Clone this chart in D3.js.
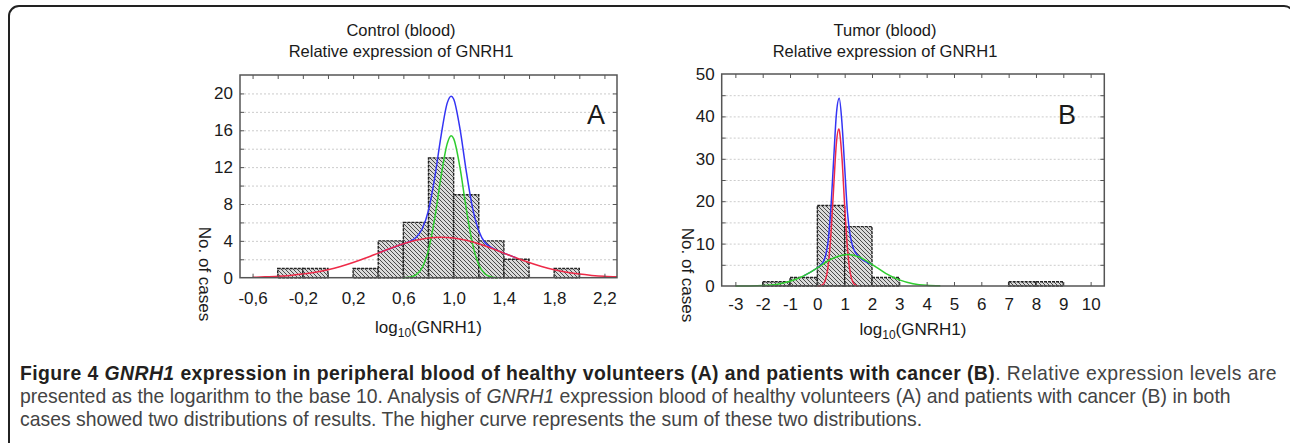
<!DOCTYPE html>
<meta charset="utf-8">
<head>
    <title>GNRH1 expression histograms</title>
    <style>
        body { margin: 0; background: #fff; }
        .chart text { font-family: "Liberation Sans", Arial, sans-serif; fill: #1a1a1a; }
        .caption text { font-family: "Liberation Sans", Arial, sans-serif; }
    </style>
</head>
<body>
<script src="https://cdn.jsdelivr.net/npm/d3@7"></script>
<script>
    // ---- data ----
    // panel A: control (blood)
    var binEdgesA = [-0.4, -0.2, 0, 0.2, 0.4, 0.6, 0.8, 1.0, 1.2, 1.4, 1.6, 1.8, 2.0];
    var countsA = [1, 1, 0, 1, 4, 6, 13, 9, 4, 2, 0, 1];
    var redA = [[-0.6, 0.05], [-0.5, 0.09], [-0.4, 0.15], [-0.3, 0.25], [-0.2, 0.39], [-0.1, 0.6], [0, 0.87],
        [0.1, 1.22], [0.2, 1.65], [0.3, 2.14], [0.4, 2.67], [0.5, 3.2], [0.6, 3.68], [0.7, 4.06], [0.8, 4.31],
        [0.9, 4.4], [1.0, 4.31], [1.1, 4.06], [1.2, 3.68], [1.3, 3.2], [1.4, 2.67], [1.5, 2.14], [1.6, 1.65],
        [1.7, 1.22], [1.8, 0.87], [1.9, 0.6], [2.0, 0.39], [2.1, 0.25], [2.2, 0.15], [2.3, 0.09]];
    var greenA = [[0.6, 0], [0.65, 0.05], [0.7, 0.3], [0.75, 1.1], [0.8, 3.0], [0.85, 6.5], [0.9, 11.0],
        [0.95, 14.6], [0.98, 15.4], [1.0, 15.1], [1.05, 12.0], [1.1, 7.5], [1.15, 3.7], [1.2, 1.4],
        [1.25, 0.4], [1.3, 0.08], [1.35, 0]];
    var blueA = [[0.4, 2.67], [0.5, 3.2], [0.6, 3.68], [0.65, 3.93], [0.7, 4.36], [0.75, 5.31], [0.8, 7.31],
        [0.85, 10.9], [0.9, 15.4], [0.95, 19.0], [0.98, 19.7], [1.0, 19.4], [1.05, 16.2], [1.1, 11.6],
        [1.15, 7.6], [1.2, 5.1], [1.25, 3.8], [1.3, 3.3], [1.4, 2.67], [1.5, 2.14]];
    var xTicksA = [-0.6, -0.2, 0.2, 0.6, 1.0, 1.4, 1.8, 2.2];
    var xMinorA = [-0.6, -0.4, -0.2, 0, 0.2, 0.4, 0.6, 0.8, 1.0, 1.2, 1.4, 1.6, 1.8, 2.0, 2.2];
    var yTicksA = [0, 4, 8, 12, 16, 20];
    var yMinorA = [2, 4, 6, 8, 10, 12, 14, 16, 18, 20];

    // panel B: tumor (blood)
    var binEdgesB = [-2, -1, 0, 1, 2, 3, 4, 5, 6, 7, 8, 9];
    var countsB = [1, 2, 19, 14, 2, 0, 0, 0, 0, 1, 1];
    var redB = [[0, 0], [0.1, 0.06], [0.2, 0.35], [0.3, 1.5], [0.4, 5.0], [0.5, 12.5], [0.6, 23.6], [0.7, 33.9],
        [0.78, 37], [0.8, 36.8], [0.9, 30.3], [1.0, 18.9], [1.1, 9.0], [1.2, 3.2], [1.3, 0.9], [1.4, 0.2], [1.5, 0]];
    var greenB = [[-3, 0], [-2.5, 0.02], [-2, 0.1], [-1.5, 0.35], [-1, 1.1], [-0.5, 2.4], [0, 4.3], [0.5, 6.3],
        [1.0, 7.35], [1.1, 7.4], [1.5, 6.9], [2, 5.1], [2.5, 3.0], [3, 1.45], [3.5, 0.55], [4, 0.15], [4.5, 0.03]];
    var blueB = [[-0.5, 2.4], [0, 4.3], [0.1, 4.8], [0.2, 5.5], [0.3, 7.1], [0.4, 10.9], [0.5, 18.8], [0.6, 30.2],
        [0.7, 40.8], [0.8, 44.3], [0.9, 38.5], [1.0, 28.0], [1.1, 17.5], [1.2, 12.0], [1.3, 9.2], [1.4, 7.8],
        [1.5, 7.0], [2, 5.1]];
    var xTicksB = [-3, -2, -1, 0, 1, 2, 3, 4, 5, 6, 7, 8, 9, 10];
    var yTicksB = [0, 10, 20, 30, 40, 50];
    var yMinorB = [5, 10, 15, 20, 25, 30, 35, 40, 45];

    var W = 1290, H = 443;

    var svg = d3.select("body").append("svg")
        .attr("width", W)
        .attr("height", H);

    // hatch pattern for the bars
    var defs = svg.append("defs");
    var pat = defs.append("pattern")
        .attr("id", "hatch")
        .attr("patternUnits", "userSpaceOnUse")
        .attr("width", 4)
        .attr("height", 4);
    pat.append("rect").attr("width", 4).attr("height", 4).attr("fill", "#dadada");
    pat.append("path")
        .attr("d", "M-1,-1 L5,5 M-1,3 L1,5 M3,-1 L5,1")
        .attr("stroke", "#4a4a4a")
        .attr("stroke-width", 1);

    // outer rounded frame
    svg.append("rect")
        .attr("x", 9).attr("y", 6)
        .attr("width", 1285).attr("height", 450)
        .attr("rx", 10)
        .attr("fill", "none")
        .attr("stroke", "#222")
        .attr("stroke-width", 2);

    var chart = svg.append("g").attr("class", "chart");

    function drawPanel(cfg) {
        var x = d3.scaleLinear().domain(cfg.xDomain).range([cfg.left, cfg.right]);
        var y = d3.scaleLinear().domain(cfg.yDomain).range([cfg.bottom, cfg.top]);
        var g = chart.append("g");
        var w = cfg.right - cfg.left, h = cfg.bottom - cfg.top;

        // grid
        g.append("g")
            .attr("transform", "translate(" + cfg.left + ",0)")
            .call(d3.axisLeft(y).tickValues(cfg.yMinor).tickSize(-w).tickFormat(""))
            .call(function (s) { s.select(".domain").remove(); })
            .selectAll("line")
            .attr("stroke", "#cccccc")
            .attr("stroke-dasharray", "2,2");

        // bars
        var bins = cfg.counts.map(function (n, i) {
            return { x0: cfg.edges[i], x1: cfg.edges[i + 1], n: n };
        }).filter(function (b) { return b.n > 0; });

        g.selectAll("rect.bar")
            .data(bins)
            .enter()
            .append("rect")
            .attr("class", "bar")
            .attr("x", function (d) { return x(d.x0); })
            .attr("y", function (d) { return y(d.n); })
            .attr("width", function (d) { return x(d.x1) - x(d.x0); })
            .attr("height", function (d) { return y(0) - y(d.n); })
            .attr("fill", "url(#hatch)")
            .attr("stroke", "#222")
            .attr("stroke-width", 1.4)
            .attr("stroke-dasharray", "3,1");

        // fitted curves
        var line = d3.line()
            .x(function (d) { return x(d[0]); })
            .y(function (d) { return y(d[1]); })
            .curve(d3.curveMonotoneX);

        cfg.curves.forEach(function (c) {
            g.append("path")
                .datum(c.pts)
                .attr("d", line)
                .attr("fill", "none")
                .attr("stroke", c.color)
                .attr("stroke-width", 1.5);
        });

        // frame
        g.append("rect")
            .attr("x", cfg.left).attr("y", cfg.top)
            .attr("width", w).attr("height", h)
            .attr("fill", "none")
            .attr("stroke", "#555")
            .attr("stroke-width", 1.5);

        // inward minor ticks on all sides
        var tk = function (sel) {
            sel.select(".domain").remove();
            sel.selectAll("line").attr("stroke", "#555");
        };
        g.append("g").attr("transform", "translate(0," + cfg.top + ")")
            .call(d3.axisTop(x).tickValues(cfg.xMinor).tickSize(-4).tickFormat("")).call(tk);
        g.append("g").attr("transform", "translate(0," + cfg.bottom + ")")
            .call(d3.axisBottom(x).tickValues(cfg.xMinor).tickSize(-4).tickFormat("")).call(tk);
        g.append("g").attr("transform", "translate(" + cfg.right + ",0)")
            .call(d3.axisRight(y).tickValues(cfg.yMinor).tickSize(-4).tickFormat("")).call(tk);
        g.append("g").attr("transform", "translate(" + cfg.left + ",0)")
            .call(d3.axisLeft(y).tickValues(cfg.yMinor).tickSize(-4).tickFormat("")).call(tk);

        // tick labels
        var yax = g.append("g").attr("transform", "translate(" + cfg.left + ",0)")
            .call(d3.axisLeft(y).tickValues(cfg.yTicks).tickSize(0).tickPadding(7).tickFormat(d3.format("d")));
        yax.select(".domain").remove();
        yax.selectAll("text").attr("font-size", 17).attr("font-family", null).attr("fill", "#1a1a1a");

        var xax = g.append("g").attr("transform", "translate(0," + cfg.bottom + ")")
            .call(d3.axisBottom(x).tickValues(cfg.xTicks).tickSize(0).tickPadding(cfg.xPad)
                .tickFormat(function (d) { return cfg.decimals ? d.toFixed(1).replace(".", ",") : String(d); }));
        xax.select(".domain").remove();
        xax.selectAll("text").attr("font-size", 17).attr("font-family", null).attr("fill", "#1a1a1a");

        // titles
        g.append("text").attr("x", cfg.titleX).attr("y", 36)
            .attr("text-anchor", "middle").attr("font-size", 16.5).text(cfg.title);
        g.append("text").attr("x", cfg.titleX).attr("y", 57)
            .attr("text-anchor", "middle").attr("font-size", 16.5).text("Relative expression of GNRH1");

        // panel letter
        g.append("text").attr("x", cfg.letterX).attr("y", 124)
            .attr("text-anchor", "middle").attr("font-size", 27).attr("fill", "#111").text(cfg.letter);

        // axis titles
        var xt = g.append("text").attr("x", (cfg.left + cfg.right) / 2).attr("y", cfg.xTitleY)
            .attr("text-anchor", "middle").attr("font-size", 17);
        xt.append("tspan").text("log");
        xt.append("tspan").attr("font-size", 12).attr("dy", 4).text("10");
        xt.append("tspan").attr("dy", -4).text("(GNRH1)");

        g.append("text")
            .attr("transform", "translate(" + cfg.yTitleX + "," + cfg.yTitleY + ") rotate(90)")
            .attr("text-anchor", "middle").attr("font-size", 17).text("No. of cases");
    }

    drawPanel({
        left: 240, right: 617, top: 75, bottom: 277.7,
        xDomain: [-0.7, 2.3], yDomain: [0, 22],
        edges: binEdgesA, counts: countsA,
        curves: [{ pts: blueA, color: "#3434f4" }, { pts: greenA, color: "#2fcc2f" }, { pts: redA, color: "#ee2a48" }],
        xTicks: xTicksA, xMinor: xMinorA, yTicks: yTicksA, yMinor: yMinorA,
        xPad: 14, decimals: true,
        title: "Control (blood)", titleX: 401, letter: "A", letterX: 596,
        xTitleY: 333, yTitleX: 199, yTitleY: 274
    });

    drawPanel({
        left: 721.7, right: 1104.3, top: 74, bottom: 286,
        xDomain: [-3.5, 10.5], yDomain: [0, 50],
        edges: binEdgesB, counts: countsB,
        curves: [{ pts: blueB, color: "#3434f4" }, { pts: redB, color: "#ee2a48" }, { pts: greenB, color: "#2fcc2f" }],
        xTicks: xTicksB, xMinor: xTicksB, yTicks: yTicksB, yMinor: yMinorB,
        xPad: 12, decimals: false,
        title: "Tumor (blood)", titleX: 885, letter: "B", letterX: 1067,
        xTitleY: 335, yTitleX: 682, yTitleY: 275
    });

    // caption: one text block, three lines
    var cap = svg.append("g").attr("class", "caption");
    var ct = cap.append("text").attr("font-size", 19).attr("fill", "#444");
    var bold = "#231f20";
    var line1 = [
        ct.append("tspan").attr("x", 20).attr("y", 380).attr("font-weight", "bold").attr("fill", bold).text("Figure 4 "),
        ct.append("tspan").attr("font-weight", "bold").attr("font-style", "italic").attr("fill", bold).text("GNRH1"),
        ct.append("tspan").attr("font-weight", "bold").attr("fill", bold)
            .text(" expression in peripheral blood of healthy volunteers (A) and patients with cancer (B)"),
        ct.append("tspan").text(". Relative expression levels are")
    ];
    var line2 = [
        ct.append("tspan").attr("x", 20).attr("y", 403).text("presented as the logarithm to the base 10. Analysis of "),
        ct.append("tspan").attr("font-style", "italic").text("GNRH1"),
        ct.append("tspan").text(" expression blood of healthy volunteers (A) and patients with cancer (B) in both")
    ];
    ct.append("tspan").attr("x", 20).attr("y", 426)
        .text("cases showed two distributions of results. The higher curve represents the sum of these two distributions.");

    // size the caption so its lines span the same width as in the figure
    function widthOf(parts) {
        return d3.sum(parts, function (p) { return p.node().getComputedTextLength(); });
    }
    function charsOf(parts) {
        return d3.sum(parts, function (p) { return p.text().length; });
    }
    var capSize = Math.min(19 * 1212 / widthOf(line2), 20.2);
    ct.attr("font-size", capSize);
    var ls = (1257 - widthOf(line1)) / charsOf(line1);
    if (ls > 0) line1.forEach(function (p) { p.attr("letter-spacing", ls); });
</script>
</body>
</html>
